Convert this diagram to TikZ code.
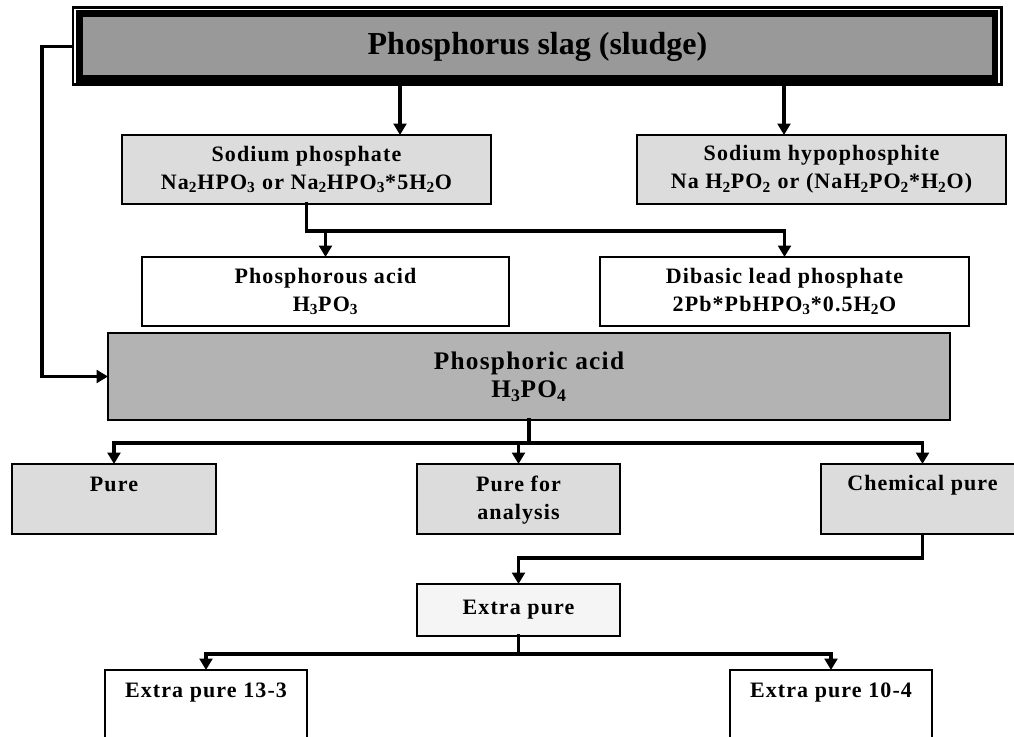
\documentclass[tikz,border=0pt]{standalone}
\usepackage{fontspec}
\setmainfont{Liberation Serif}
\newfontfamily\lsfont[LetterSpace=5]{Liberation Serif}
\usetikzlibrary{arrows.meta}
\definecolor{slaggray}{HTML}{999999}
\definecolor{acidgray}{HTML}{B3B3B3}
\definecolor{lightgray}{HTML}{DCDCDC}
\definecolor{palegray}{HTML}{F5F5F5}
\begin{document}
\begin{tikzpicture}[x=0.75pt,y=-0.75pt,
  box/.style={draw=black, line width=1.1pt, inner sep=0pt, outer sep=0pt, align=center,
    font=\lsfont\bfseries\fontsize{16.5}{21}\selectfont},
  lbl/.style={inner sep=0pt, align=center, font=\lsfont\bfseries\fontsize{16.5}{21}\selectfont},
  conn/.style={line width=2.6pt, line cap=rect},
  arr/.style={line width=2.6pt, -{Triangle[width=9.5pt,length=8.5pt]}},
]
\useasboundingbox (0,0) rectangle (1014,737);
\fill[white] (0,0) rectangle (1014,737);

% top box
\node[draw=black, fill=slaggray, line width=8.25pt, inner sep=0pt, outer sep=4.125pt,
      minimum width=920*0.75pt, minimum height=69*0.75pt] (slag) at (537.5,46.5) {};
\draw[white, line width=0.8pt] ([shift={(3,77)}]slag.north west) -- ([shift={(3,3)}]slag.north west)
   -- ([shift={(927,3)}]slag.north west) -- ([shift={(927,77)}]slag.north west);
\node[inner sep=0pt, font=\bfseries\fontsize{24}{28}\selectfont] (slagt) at (slag.center) {Phosphorus slag (sludge)};

% second row
\node[box, fill=lightgray, minimum width=369*0.75pt, minimum height=69*0.75pt] (sp) at (306.5,169.5)
  {Sodium phosphate\\Na\textsubscript{2}HPO\textsubscript{3} or Na\textsubscript{2}HPO\textsubscript{3}*5H\textsubscript{2}O};
\node[box, fill=lightgray, minimum width=369*0.75pt, minimum height=69*0.75pt] (hp) at (821.5,169.5)
  {Sodium hypophosphite\\Na H\textsubscript{2}PO\textsubscript{2} or (NaH\textsubscript{2}PO\textsubscript{2}*H\textsubscript{2}O)};

% third row
\node[box, fill=white, minimum width=367*0.75pt, minimum height=69*0.75pt] (pa) at (325.5,291.5)
  {Phosphorous acid\\H\textsubscript{3}PO\textsubscript{3}};
\node[box, fill=white, minimum width=369*0.75pt, minimum height=69*0.75pt] (dib) at (784.5,291.5)
  {Dibasic lead phosphate\\2Pb*PbHPO\textsubscript{3}*0.5H\textsubscript{2}O};

% phosphoric acid
\node[box, fill=acidgray, minimum width=842*0.75pt, minimum height=87*0.75pt,
      font=\lsfont\bfseries\fontsize{19}{21}\selectfont] (pha) at (529,376.5)
  {Phosphoric acid\\H\textsubscript{3}PO\textsubscript{4}};

% grades
\node[box, fill=lightgray, minimum width=204*0.75pt, minimum height=70*0.75pt] (pure) at (114,499) {};
\node[box, fill=lightgray, minimum width=203*0.75pt, minimum height=70*0.75pt] (pfa) at (518.5,499) {};
\node[box, fill=lightgray, minimum width=203*0.75pt, minimum height=70*0.75pt] (cp) at (922.5,499) {};
\node[lbl, anchor=north] (puret) at ([yshift=-9.5pt]pure.north) {Pure};
\node[lbl, anchor=north] (pfat) at ([yshift=-8.5pt]pfa.north) {Pure for\\analysis};
\node[lbl, anchor=north] (cpt) at ([yshift=-8.5pt]cp.north) {Chemical pure};

\node[box, fill=palegray, minimum width=203*0.75pt, minimum height=52*0.75pt] (ep) at (518.5,610) {Extra pure};

\node[box, fill=white, minimum width=202*0.75pt, minimum height=70*0.75pt] (e13) at (206,705) {};
\node[box, fill=white, minimum width=202*0.75pt, minimum height=70*0.75pt] (e10) at (831,705) {};
\node[lbl, anchor=north] (e13t) at ([yshift=-9.5pt]e13.north) {Extra pure 13-3};
\node[lbl, anchor=north] (e10t) at ([yshift=-9.5pt]e10.north) {Extra pure 10-4};

% connectors
\coordinate (xa) at (400,0);
\coordinate (xb) at (784,0);
\draw[arr] (slag.south -| xa) -- (sp.north -| xa);
\draw[arr] (slag.south -| xb) -- (hp.north -| xb);
\draw[arr] (slag.west) -- ++(-30,0) |- (pha.west);

\coordinate (j1) at (306.5,231);
\draw[conn] (sp.south) -- (j1);
\draw[arr] (j1) -| (dib.north);
\draw[arr] (j1 -| pa.north) -- (pa.north);

\coordinate (j2) at (529,443);
\draw[conn] (pha.south) -- (j2);
\draw[arr] (j2) -| (pure.north);
\draw[arr] (j2) -| (cp.north);
\draw[arr] (j2 -| pfa.north) -- (pfa.north);

\coordinate (j3) at (922.5,558);
\draw[arr] (cp.south) -- (j3) -| (ep.north);

\coordinate (j4) at (518.5,654);
\draw[conn] (ep.south) -- (j4);
\draw[arr] (j4) -| (e13.north);
\draw[arr] (j4) -| (e10.north);
\end{tikzpicture}
\end{document}
